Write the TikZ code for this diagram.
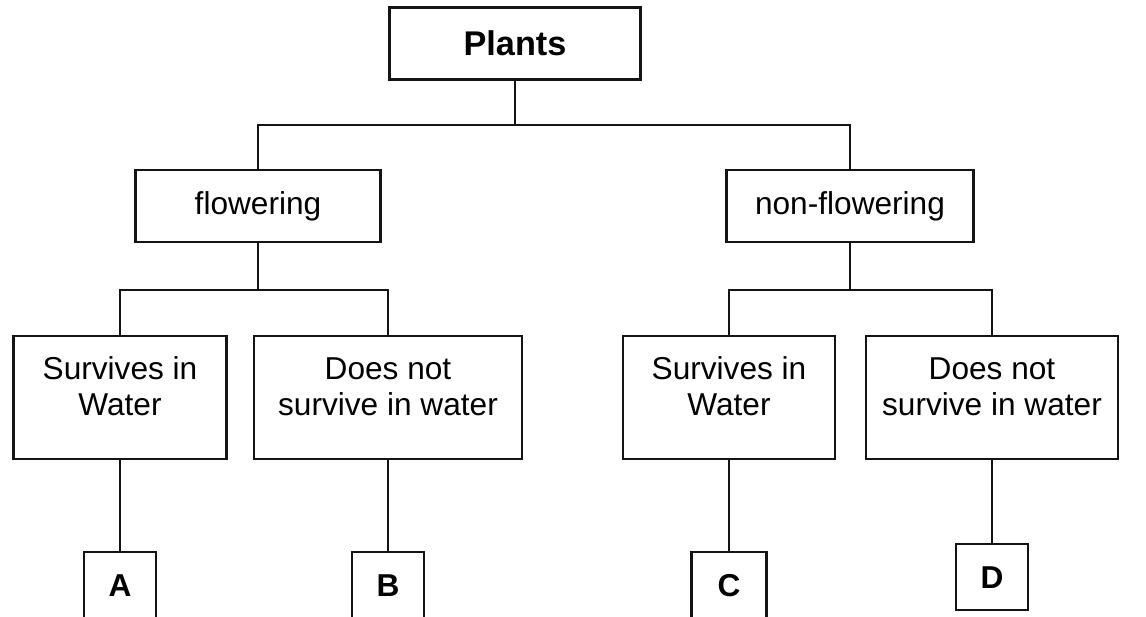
\documentclass[tikz,border=0pt]{standalone}
\usepackage{fontspec}
\setmainfont{Liberation Sans}
\usepackage{tikz}
\usetikzlibrary{positioning}
\definecolor{ink}{HTML}{141414}
\newcommand{\padbot}{\rule[-4.3mm]{0pt}{4.3mm}}
\tikzset{block/.style={draw=ink,line width=1.2pt,align=center,font=\fontsize{18}{20.5}\selectfont,inner sep=0pt,minimum height=14.4mm},leaf/.style={block,inner ysep=4.2mm,minimum height=24.6mm},tag/.style={block,font=\fontsize{18}{20.5}\selectfont\bfseries,minimum width=14.4mm,minimum height=13.2mm},link/.style={draw=ink,line width=1.1pt}}

\begin{document}
\begin{tikzpicture}
\useasboundingbox (0,0) rectangle (229.2mm,-123.2mm);
\node[block,minimum width=50.2mm,font=\fontsize{19.5}{22}\selectfont\bfseries] (plants) at (103mm,-8.7mm) {Plants};
\node[block,minimum width=49mm,below=17.7mm of plants,xshift=-51.4mm] (flow) {flowering};
\node[block,minimum width=49.4mm,below=17.7mm of plants,xshift=67mm] (nonflow) {non-flowering};
\node[leaf,minimum width=42.6mm,below=18.3mm of flow,xshift=-27.6mm] (fwet) {Survives in\\Water\padbot};
\node[leaf,minimum width=53.6mm,below=18.3mm of flow,xshift=26mm] (fdry) {Does not\\survive in water\padbot};
\node[leaf,minimum width=42.4mm,below=18.3mm of nonflow,xshift=-24.2mm] (nwet) {Survives in\\Water\padbot};
\node[leaf,minimum width=50.4mm,below=18.3mm of nonflow,xshift=28.4mm] (ndry) {Does not\\survive in water\padbot};
\node[tag,below=18.3mm of fwet] (a) {A};
\node[tag,below=18.3mm of fdry] (b) {B};
\node[tag,minimum width=15mm,below=18.3mm of nwet] (c) {C};
\node[tag,below=16.7mm of ndry] (d) {D};
\draw[link](plants.south)--++(0,-8.8mm) coordinate (top);
\draw[link](top)-|(flow.north);
\draw[link](top)-|(nonflow.north);
\draw[link](flow.south)--++(0,-9.4mm) coordinate (fmid);
\draw[link](fmid)-|(fwet.north);
\draw[link](fmid)-|(fdry.north);
\draw[link](nonflow.south)--++(0,-9.4mm) coordinate (nmid);
\draw[link](nmid)-|(nwet.north);
\draw[link](nmid)-|(ndry.north);
\draw[link](fwet)--(a);
\draw[link](fdry)--(b);
\draw[link](nwet)--(c);
\draw[link](ndry)--(d);
\end{tikzpicture}
\end{document}
